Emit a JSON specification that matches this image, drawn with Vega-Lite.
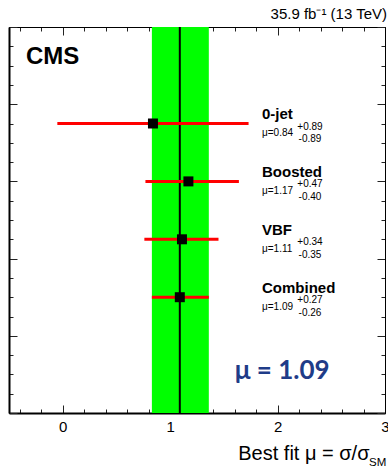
{
  "$schema": "https://vega.github.io/schema/vega-lite/v6.json",
  "width": 376,
  "height": 386,
  "autosize": {"type": "none"},
  "padding": {"left": 9, "top": 27, "right": 3, "bottom": 55},
  "background": "#ffffff",
  "config": {"view": {"stroke": "#000000", "strokeWidth": 1}, "font": "Liberation Sans"},
  "title": {"text": "35.9 fb⁻¹ (13 TeV)", "anchor": "end", "frame": "group", "fontSize": 15, "fontWeight": "normal", "font": "Liberation Sans", "color": "#000000", "baseline": "alphabetic", "offset": -8, "dx": 2},
  "datasets": {
    "cats": [
      {"cat": "0-jet", "row": 15, "mu": 0.84, "lo": -0.05, "hi": 1.73, "up": "+0.89", "down": "-0.89"},
      {"cat": "Boosted", "row": 12, "mu": 1.17, "lo": 0.77, "hi": 1.64, "up": "+0.47", "down": "-0.40"},
      {"cat": "VBF", "row": 9, "mu": 1.11, "lo": 0.76, "hi": 1.45, "up": "+0.34", "down": "-0.35"},
      {"cat": "Combined", "row": 6, "mu": 1.09, "lo": 0.83, "hi": 1.36, "up": "+0.27", "down": "-0.26"}
    ]
  },
  "data": {"name": "cats"},
  "resolve": {"axis": {"x": "independent", "y": "independent"}},
  "layer": [
    {
      "transform": [{"filter": "datum.cat === 'Combined'"}],
      "mark": {"type": "rect", "color": "#00ff00"},
      "encoding": {
        "x": {"field": "lo", "type": "quantitative",
          "scale": {"domain": [-0.5, 3], "nice": false, "zero": false},
          "axis": {"orient": "bottom",
            "values": [-0.4, -0.2, 0, 0.2, 0.4, 0.6, 0.8, 1, 1.2, 1.4, 1.6, 1.8, 2, 2.2, 2.4, 2.6, 2.8, 3],
            "labelExpr": "abs(datum.value - round(datum.value)) < 0.001 ? format(datum.value, 'd') : ''",
            "tickSize": {"condition": {"test": "abs(datum.value - round(datum.value)) < 0.001", "value": -8}, "value": -4},
            "labelPadding": 14, "labelFlush": false, "labelOverlap": false, "labelBound": false,
            "labelFont": "Liberation Sans", "labelFontSize": 15, "labelColor": "#000000",
            "grid": false, "domain": true, "domainColor": "#000000", "domainWidth": 2, "tickColor": "#222222", "tickWidth": 1,
            "title": "Best fit μ = σ/σ", "titleFont": "Liberation Sans", "titleFontSize": 20, "titleFontWeight": "normal", "titleColor": "#000000",
            "titleAnchor": "end", "titleAlign": "right", "titleBaseline": "alphabetic", "titleX": 360, "titleY": 46}},
        "x2": {"field": "hi"}
      }
    },
    {
      "transform": [{"filter": "datum.cat === 'Combined'"}],
      "mark": {"type": "rule", "color": "#000000", "strokeWidth": 2},
      "encoding": {
        "x": {"field": "mu", "type": "quantitative",
          "axis": {"orient": "top",
            "values": [-0.4, -0.2, 0, 0.2, 0.4, 0.6, 0.8, 1, 1.2, 1.4, 1.6, 1.8, 2, 2.2, 2.4, 2.6, 2.8, 3],
            "tickSize": {"condition": {"test": "abs(datum.value - round(datum.value)) < 0.001", "value": -8}, "value": -4},
            "labels": false, "grid": false, "domain": true, "domainColor": "#000000", "domainWidth": 1, "tickColor": "#222222", "title": null}}
      }
    },
    {
      "mark": {"type": "rule", "color": "#ff0000", "strokeWidth": 3},
      "encoding": {
        "x": {"field": "lo", "type": "quantitative", "axis": null},
        "x2": {"field": "hi"},
        "y": {"field": "row", "type": "quantitative",
          "scale": {"domain": [0, 20], "nice": false, "zero": false},
          "axis": {"orient": "left",
            "values": [0, 1, 2, 3, 4, 5, 6, 7, 8, 9, 10, 11, 12, 13, 14, 15, 16, 17, 18, 19, 20],
            "tickSize": {"condition": {"test": "datum.value % 4 === 0", "value": -8}, "value": -4},
            "labels": false, "grid": false, "domain": true, "domainColor": "#000000", "domainWidth": 2, "tickColor": "#222222", "title": null}}
      }
    },
    {
      "mark": {"type": "point", "shape": "square", "filled": true, "size": 100, "color": "#000000", "opacity": 1},
      "encoding": {
        "x": {"field": "mu", "type": "quantitative", "axis": null},
        "y": {"field": "row", "type": "quantitative",
          "axis": {"orient": "right",
            "values": [0, 1, 2, 3, 4, 5, 6, 7, 8, 9, 10, 11, 12, 13, 14, 15, 16, 17, 18, 19, 20],
            "tickSize": {"condition": {"test": "datum.value % 4 === 0", "value": -8}, "value": -4},
            "labels": false, "grid": false, "domain": true, "domainColor": "#000000", "domainWidth": 1, "tickColor": "#222222", "title": null}}
      }
    },
    {
      "mark": {"type": "text", "align": "left", "baseline": "alphabetic", "dy": -4.5, "font": "Liberation Sans", "fontSize": 15, "fontWeight": "bold", "color": "#000000"},
      "encoding": {
        "x": {"datum": 1.855, "type": "quantitative", "axis": null},
        "y": {"field": "row", "type": "quantitative", "axis": null},
        "text": {"field": "cat"}
      }
    },
    {
      "transform": [{"calculate": "'μ=' + format(datum.mu, '.2f')", "as": "mutext"}],
      "mark": {"type": "text", "align": "left", "baseline": "alphabetic", "dy": 12.7, "font": "Liberation Sans", "fontSize": 10, "color": "#000000"},
      "encoding": {
        "x": {"datum": 1.855, "type": "quantitative", "axis": null},
        "y": {"field": "row", "type": "quantitative", "axis": null},
        "text": {"field": "mutext"}
      }
    },
    {
      "mark": {"type": "text", "align": "center", "baseline": "alphabetic", "dy": 6, "font": "Liberation Sans", "fontSize": 10, "color": "#000000"},
      "encoding": {
        "x": {"datum": 2.302, "type": "quantitative", "axis": null},
        "y": {"field": "row", "type": "quantitative", "axis": null},
        "text": {"field": "up"}
      }
    },
    {
      "mark": {"type": "text", "align": "center", "baseline": "alphabetic", "dy": 18.4, "font": "Liberation Sans", "fontSize": 10, "color": "#000000"},
      "encoding": {
        "x": {"datum": 2.302, "type": "quantitative", "axis": null},
        "y": {"field": "row", "type": "quantitative", "axis": null},
        "text": {"field": "down"}
      }
    },
    {
      "data": {"values": [{"label": "CMS"}]},
      "mark": {"type": "text", "align": "left", "baseline": "alphabetic", "font": "Liberation Sans", "fontSize": 24, "fontWeight": "bold", "color": "#000000"},
      "encoding": {
        "x": {"datum": -0.342, "type": "quantitative", "axis": null},
        "y": {"datum": 18.08, "type": "quantitative", "axis": null},
        "text": {"field": "label"}
      }
    },
    {
      "data": {"values": [{"label": "μ = 1.09"}]},
      "mark": {"type": "text", "align": "center", "baseline": "alphabetic", "font": "Lato", "fontSize": 26, "fontWeight": "bold", "color": "#1f3c88"},
      "encoding": {
        "x": {"datum": 2.043, "type": "quantitative", "axis": null},
        "y": {"datum": 1.746, "type": "quantitative", "axis": null},
        "text": {"field": "label"}
      }
    },
    {
      "data": {"values": [{"label": "SM"}]},
      "mark": {"type": "text", "align": "left", "baseline": "alphabetic", "dx": -16, "dy": 53, "font": "Liberation Sans", "fontSize": 11.5, "color": "#000000"},
      "encoding": {
        "x": {"datum": 3, "type": "quantitative", "axis": null},
        "y": {"datum": 0, "type": "quantitative", "axis": null},
        "text": {"field": "label"}
      }
    }
  ]
}
